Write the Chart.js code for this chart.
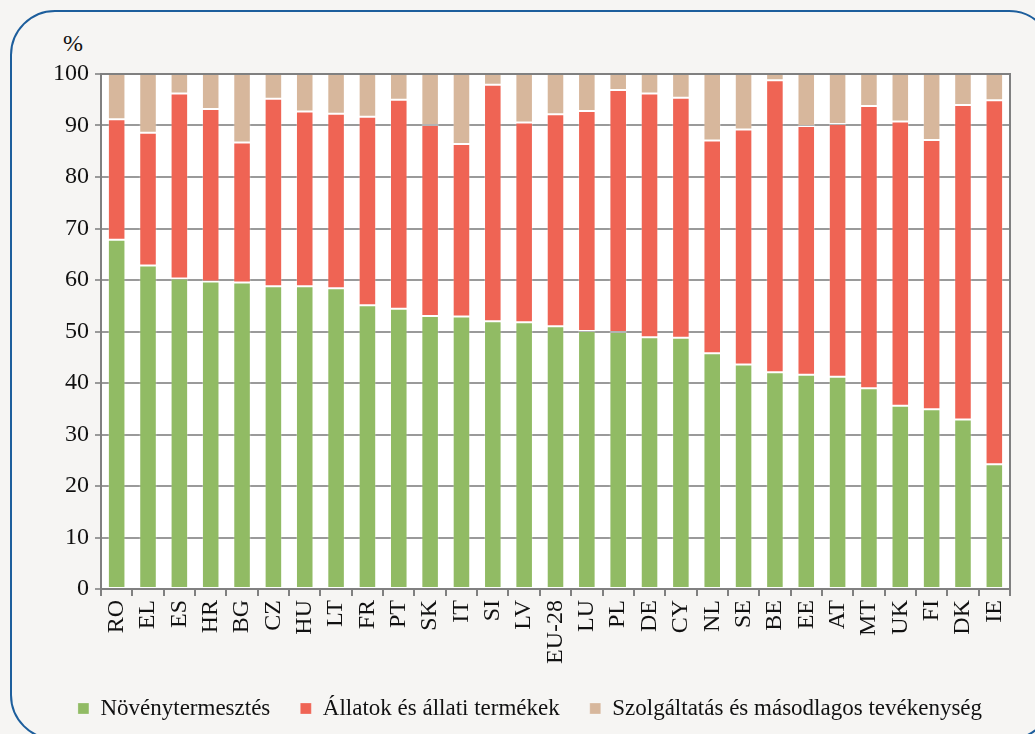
<!DOCTYPE html>
<html>
<head>
<meta charset="utf-8">
<script src="https://cdn.jsdelivr.net/npm/chart.js@4"></script>
<style>
  html, body { margin: 0; padding: 0; background: #f6f5f3; overflow: hidden; }
  .wrap { position: relative; width: 1035px; height: 734px; }
  .frame { position: absolute; left: 10px; top: 10px; width: 1040px; height: 726px;
           border: 2px solid #1d5e9c; border-radius: 45px; }
  .unit { position: absolute; left: 63px; top: 30px; font: 24px "Liberation Serif", serif; color: #111; }
  canvas { position: absolute; left: 0; top: 0; }
</style>
</head>
<body>
<div class="wrap">
  <div class="frame"></div>
  <div class="unit">%</div>
  <canvas id="chart" width="1035" height="734"></canvas>
</div>
<script>
// ---------- Data (%) ----------
const countries = ['RO', 'EL', 'ES', 'HR', 'BG', 'CZ', 'HU', 'LT', 'FR', 'PT', 'SK', 'IT', 'SI', 'LV', 'EU-28',
  'LU', 'PL', 'DE', 'CY', 'NL', 'SE', 'BE', 'EE', 'AT', 'MT', 'UK', 'FI', 'DK', 'IE'];
const crops    = [67.8, 62.8, 60.3, 59.7, 59.5, 58.8, 58.8, 58.4, 55.1, 54.4, 53.0, 52.9, 52.0, 51.8, 51.0,
  50.1, 49.9, 48.9, 48.8, 45.8, 43.6, 42.1, 41.6, 41.2, 39.0, 35.6, 34.9, 32.9, 24.2];
const animals  = [23.4, 25.8, 35.9, 33.5, 27.2, 36.4, 33.9, 33.9, 36.6, 40.6, 37.1, 33.5, 45.9, 38.8, 41.2,
  42.7, 47.0, 47.3, 46.6, 41.3, 45.6, 56.7, 48.3, 49.1, 54.8, 55.2, 52.3, 61.1, 70.7];
const services = [8.8, 11.4, 3.8, 6.8, 13.3, 4.8, 7.3, 7.7, 8.3, 5.0, 9.9, 13.6, 2.1, 9.4, 7.8,
  7.2, 3.1, 3.8, 4.6, 12.9, 10.8, 1.2, 10.1, 9.7, 6.2, 9.2, 12.8, 6.0, 5.1];
const yTicks = [0, 10, 20, 30, 40, 50, 60, 70, 80, 90, 100];

const FONT = '"Liberation Serif", "DejaVu Serif", serif';
Chart.defaults.font.family = FONT;
Chart.defaults.font.size = 24;
Chart.defaults.color = '#111';

// fehér rajzterület + szürke keret
const plotFrame = {
  id: 'plotFrame',
  beforeDraw(c) {
    const a = c.chartArea, ctx = c.ctx;
    ctx.save();
    ctx.fillStyle = '#ffffff';
    ctx.fillRect(a.left, a.top, a.right - a.left, a.bottom - a.top);
    ctx.restore();
  },
  afterDatasetsDraw(c) {
    const a = c.chartArea, ctx = c.ctx;
    ctx.save();
    ctx.strokeStyle = '#808080';
    ctx.lineWidth = 2;
    ctx.strokeRect(a.left, a.top, a.right - a.left, a.bottom - a.top);
    ctx.restore();
  }
};

const ds = (label, data, color) => ({
  label, data, backgroundColor: color,
  borderColor: 'rgba(255,255,255,0.25)', borderWidth: 1, borderSkipped: false,
  barPercentage: 0.56, categoryPercentage: 1
});

new Chart(document.getElementById('chart'), {
  type: 'bar',
  data: {
    labels: countries,
    datasets: [
      ds('Növénytermesztés', crops, '#91bb64'),
      ds('Állatok és állati termékek', animals, '#ef6454'),
      ds('Szolgáltatás és másodlagos tevékenység', services, '#d7b79c'),
    ],
  },
  options: {
    responsive: false,
    animation: false,
    // bal oldali padding + jobb oldali üres tengely: így a jelmagyarázat középre kerül
    layout: { padding: { left: 25, right: 0, top: 74, bottom: 4 } },
    plugins: {
      legend: {
        position: 'bottom',
        labels: { font: { family: FONT, size: 23 }, color: '#111', boxWidth: 11, boxHeight: 11, padding: 30 },
      },
      tooltip: { enabled: false },
    },
    scales: {
      x: {
        stacked: true,
        grid: { drawOnChartArea: false, drawTicks: true, tickLength: 7, color: '#808080', lineWidth: 2 },
        border: { color: '#808080', width: 2 },
        ticks: { font: { family: FONT, size: 24 }, color: '#111', minRotation: 90, maxRotation: 90, padding: 4, autoSkip: false },
        afterFit(s) { s.height = 78; },
      },
      y: {
        stacked: true,
        min: 0, max: 100,
        afterBuildTicks(s) { s.ticks = yTicks.map(v => ({ value: v })); },
        grid: { color: '#9a9a9a', lineWidth: 2, tickLength: 6 },
        border: { color: '#808080', width: 2 },
        ticks: { font: { family: FONT, size: 24 }, color: '#111', padding: 6 },
        afterFit(s) { s.width = 76; },
      },
      spacer: {
        position: 'right',
        grid: { display: false },
        border: { display: false },
        ticks: { display: false },
        afterFit(s) { s.width = 25; },
      },
    },
  },
  plugins: [plotFrame],
});
</script>
</body>
</html>
